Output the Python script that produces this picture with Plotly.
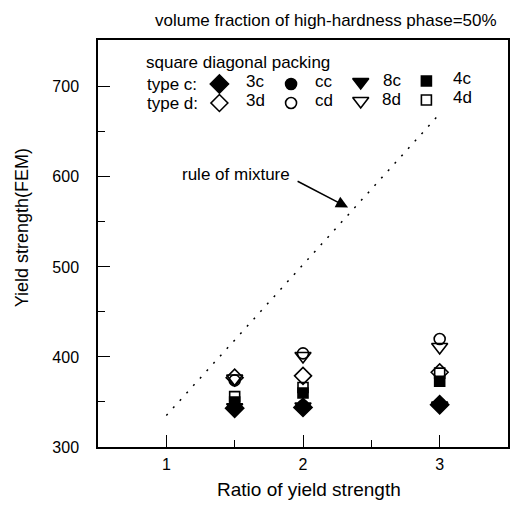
import plotly.graph_objects as go

# ---- data ----
ratio = [1.5, 2, 3]
series_names = ["3c", "cc", "8c", "4c", "3d", "cd", "8d", "4d"]
y_3c = [343, 344, 347]
y_cc = [345, 346, 348]
y_8c = [344, 345, 346]
y_4c = [350, 360, 373]
y_3d = [377, 379, 383]
y_cd = [374, 404, 420]
y_8d = [376, 401, 411]
y_4d = [356, 366, 382]
mix_ratio = [1, 3]
mix_strength = [335, 670]
x_ticks = [1, 2, 3]
y_ticks = [300, 400, 500, 600, 700]

W, H = 515, 506
L, R, T, B = 98, 5, 40, 59
PW, PH = W - L - R, H - T - B
FONT = "Liberation Sans, Arial, sans-serif"


def px(x):
    return (x - L) / PW


def py(y):
    return (H - B - y) / PH


def txt(x, y, text, size=17, anchor="center", **kw):
    fig.add_annotation(x=px(x), y=py(y), xref="paper", yref="paper", text=text,
                       showarrow=False, xanchor=anchor, yanchor="middle",
                       font=dict(size=size, color="black", family=FONT), **kw)


fig = go.Figure()

# rule of mixture
fig.add_trace(go.Scatter(x=mix_ratio, y=mix_strength, mode="lines",
                         line=dict(color="black", width=1.5, dash="2px,8px"),
                         showlegend=False, hoverinfo="skip"))

styles = {
    "3c": ("diamond", 14), "cc": ("circle", 11), "8c": ("triangle-down", 14), "4c": ("square", 10),
    "3d": ("diamond-open", 13), "cd": ("circle-open", 11), "8d": ("triangle-down-open", 14), "4d": ("square-open", 10),
}
vals = {"3c": y_3c, "cc": y_cc, "8c": y_8c, "4c": y_4c,
        "3d": y_3d, "cd": y_cd, "8d": y_8d, "4d": y_4d}
for name in series_names:
    sym, sz = styles[name]
    fig.add_trace(go.Scatter(x=ratio, y=vals[name], mode="markers", name=name,
                             marker=dict(symbol=sym, size=sz, color="black",
                                         line=dict(color="black", width=1.6)),
                             showlegend=False))

# legend drawn on a pixel-space overlay axis
leg_sym_x = [220, 292, 362, 428]
leg_lab_x = [256, 325, 393, 464]
col_dy = [0, 0, -2, -3]
row_y = [84, 103]
for r, names in enumerate([series_names[:4], series_names[4:]]):
    for i, name in enumerate(names):
        sym, sz = styles[name]
        fig.add_trace(go.Scatter(x=[leg_sym_x[i]], y=[row_y[r] + col_dy[i]], mode="markers",
                                 xaxis="x2", yaxis="y2", showlegend=False, hoverinfo="skip",
                                 marker=dict(symbol=sym, size=sz, color="black",
                                             line=dict(color="black", width=1.6))))
        txt(leg_lab_x[i], row_y[r] + col_dy[i] - 2, name)
    txt(145, row_y[r], ["type c:", "type d:"][r], anchor="left")
txt(144, 63, "square diagonal packing", anchor="left")

# title
txt(327, 20, "volume fraction of high-hardness phase=50%", size=17)
# axis titles
txt(310, 489, "Ratio of yield strength", size=19)
txt(22, 228, "Yield strength(FEM)", size=18, textangle=-90)

# rule of mixture label and arrow
fig.add_annotation(x=1.51, y=603, text="rule of mixture", showarrow=False,
                   xanchor="center", yanchor="middle",
                   font=dict(size=17, color="black", family=FONT))
fig.add_annotation(x=2.33, y=566, ax=-52, ay=-27, text="", showarrow=True,
                   arrowhead=2, arrowsize=1.6, arrowwidth=1.5, arrowcolor="black")

axis_common = dict(showgrid=False, zeroline=False, showline=True, linecolor="black",
                   linewidth=1.5, mirror=True, ticks="inside", tickcolor="black",
                   tickwidth=1.2, ticklen=12,
                   tickfont=dict(size=16, color="black", family=FONT))
fig.update_layout(
    width=W, height=H, margin=dict(l=L, r=R, t=T, b=B),
    plot_bgcolor="white", paper_bgcolor="white",
    xaxis=dict(range=[0.5, 3.5], tickvals=x_ticks, ticklabelstandoff=2,
               minor=dict(tickvals=[1.5, 2.5], ticks="inside", ticklen=7, tickcolor="black", tickwidth=1.2),
               **axis_common),
    yaxis=dict(range=[300, 752], tickvals=y_ticks, ticklabelstandoff=14,
               minor=dict(tickvals=[350, 450, 550, 650], ticks="inside", ticklen=7, tickcolor="black", tickwidth=1.2),
               **axis_common),
    xaxis2=dict(range=[L, W - R], overlaying="x", visible=False),
    yaxis2=dict(range=[H - B, T], overlaying="y", visible=False),
    showlegend=False,
)

fig.write_html("out.html")
